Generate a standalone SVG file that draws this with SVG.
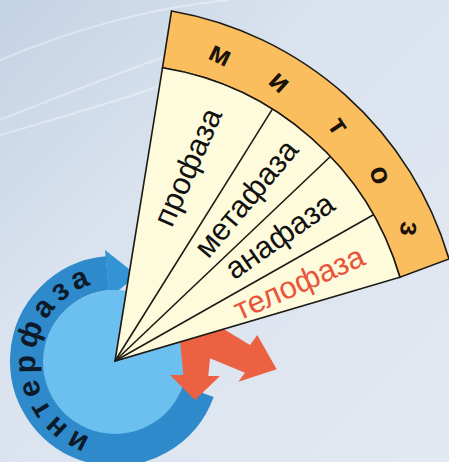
<svg xmlns="http://www.w3.org/2000/svg" width="449" height="462" viewBox="0 0 449 462">
  <defs>
    <linearGradient id="bg" x1="0" y1="0" x2="1" y2="1">
      <stop offset="0" stop-color="#c3d2e4"/>
      <stop offset="0.35" stop-color="#d9e2ee"/>
      <stop offset="1" stop-color="#e3e9f2"/>
    </linearGradient>
    <path id="ringText" d="M 90.3 437 A 80 80 0 0 1 108 281.3" fill="none"/>
  </defs>
  <style>
    .phase { font-family: "Liberation Sans", Arial, sans-serif; font-size: 31px; fill: #111; }
    .red { fill: #e8553b; }
    .band { font-family: "Liberation Sans", Arial, sans-serif; font-size: 29px; font-weight: bold; fill: #1a1208; }
    .ring { font-family: "Liberation Sans", Arial, sans-serif; font-size: 30px; font-weight: bold; fill: #0d1a2a; letter-spacing: 5px; }
    .edge { fill: none; stroke: #1c1a14; stroke-width: 1.6; }
  </style>
  <rect width="449" height="462" fill="url(#bg)"/>
  <g fill="none" stroke="#ffffff" stroke-opacity="0.35" stroke-width="2">
    <path d="M 0 60 Q 120 10 230 0"/>
    <path d="M 0 120 Q 150 60 240 30"/>
    <path d="M 0 135 Q 140 95 190 75"/>
  </g>

  <g id="interphase">
    <path d="M 197.7 391.1 A 88 88 0 1 1 107.3 273.3" fill="none" stroke="#2e8acb" stroke-width="34"/>
    <polygon points="105,250 137,275.3 109.3,298" fill="#3294d4"/>
    <circle cx="115" cy="362" r="72" fill="#6cc0f0"/>
    <text class="ring"><textPath href="#ringText" startOffset="0">интерфаза</textPath></text>
  </g>

  <g id="connectors">
    <polygon points="180,340 183.3,375 170,375 195,400 220,376 208.3,376 210,358.3 245,372.7 238.3,381.7 276.7,369.3 257.3,335 250,345 222,328" fill="#ec6142"/>
  </g>

  <g id="mitosis">
    <path d="M 162.5 67.8 L 171.5 11 A 352 352 0 0 1 449 259 L 399.9 277.2 A 297 297 0 0 0 162.5 67.8 Z" fill="#fbbe5e" stroke="#1c1a14" stroke-width="1.6"/>
    <path d="M 115 361 L 162.5 67.8 A 297 297 0 0 1 399.9 277.2 Z" fill="#fdfbdc" stroke="#1c1a14" stroke-width="1.6"/>
    <g class="band">
      <text transform="translate(220.8,53.7) rotate(26)" text-anchor="middle" dy="10">м</text>
      <text transform="translate(280.4,81.3) rotate(42)" text-anchor="middle" dy="10">и</text>
      <text transform="translate(339.1,125.6) rotate(56)" text-anchor="middle" dy="10">т</text>
      <text transform="translate(381.2,174.6) rotate(70)" text-anchor="middle" dy="10">о</text>
      <text transform="translate(410.5,228.8) rotate(95)" text-anchor="middle" dy="10">з</text>
    </g>
  </g>

  <g id="dividers">
    <line class="edge" x1="115" y1="361" x2="272.4" y2="109.1"/>
    <line class="edge" x1="115" y1="361" x2="330.4" y2="156.5"/>
    <line class="edge" x1="115" y1="361" x2="373.5" y2="214.8"/>
  </g>

  <g id="prophase"><text class="phase" transform="translate(190,168) rotate(-66)" text-anchor="middle" dy="8">профаза</text></g>
  <g id="metaphase"><text class="phase" transform="translate(248,200) rotate(-50)" text-anchor="middle" dy="8">метафаза</text></g>
  <g id="anaphase"><text class="phase" transform="translate(281,238) rotate(-35)" text-anchor="middle" dy="8">анафаза</text></g>
  <g id="telophase"><text class="phase red" transform="translate(300,285) rotate(-24)" text-anchor="middle" dy="8">телофаза</text></g>
</svg>
